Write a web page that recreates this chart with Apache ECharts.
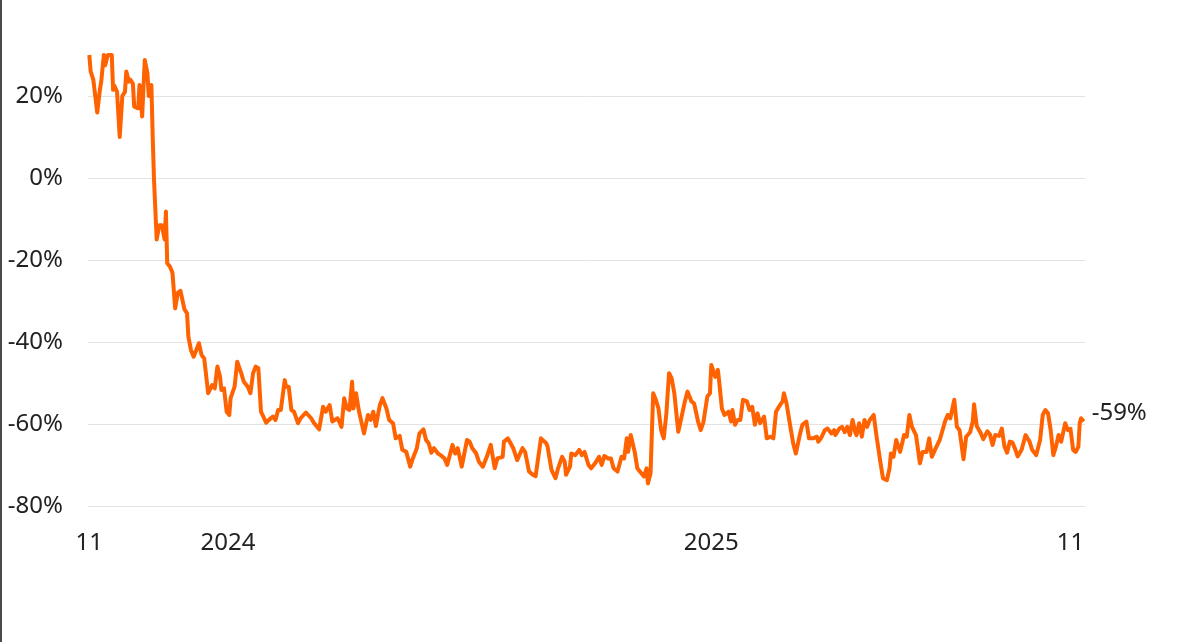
<!DOCTYPE html>
<html>
<head>
<meta charset="utf-8">
<script src="https://cdn.jsdelivr.net/npm/echarts@6/dist/echarts.min.js"></script>
<style>
  html, body { margin: 0; padding: 0; background: #fff; }
  #wrap { position: relative; width: 1200px; height: 642px; }
  #chart { width: 1200px; height: 642px; }
  #edge { position: absolute; left: 0; top: 0; width: 2px; height: 642px; background: #4a4a4a; }
</style>
</head>
<body>
<div id="wrap"><div id="chart"></div><div id="edge"></div></div>
<script>
// Days since the first observation (2024-01-01 = day 105, 2025-01-01 = day 471)
const days = [
  0,1,3,6,8,9,11,12,14,17,18,19,21,23,25,27,28,30,31,33,34,37,38,40,41,42,44,45,47,48,
  49,51,53,55,57,58,59,61,63,65,67,69,72,74,75,77,79,83,85,87,90,93,95,97,99,100,102,104,106,107,
  110,112,115,117,120,122,124,126,128,130,134,136,139,141,143,145,148,149,151,153,155,158,160,164,168,170,174,177,179,182,
  184,188,191,193,195,197,199,200,202,204,208,211,213,215,217,220,222,225,227,230,232,235,237,240,243,245,248,250,253,255,
  257,259,261,264,266,269,271,275,277,279,282,283,286,288,290,293,295,298,301,304,307,309,313,314,317,319,321,324,328,330,
  333,336,338,342,343,346,347,350,353,355,358,360,361,364,365,368,371,373,375,378,380,383,386,388,390,393,395,397,400,403,
  405,407,408,410,413,415,418,420,422,423,425,427,429,431,433,435,437,439,441,443,446,448,451,453,456,458,461,463,465,468,
  470,471,474,476,477,479,481,484,486,487,489,491,493,495,498,500,502,504,506,508,511,513,516,518,520,523,525,526,528,530,
  533,535,538,540,543,545,548,551,552,554,557,559,562,564,565,568,570,572,574,576,578,580,581,583,585,587,589,591,594,596,
  599,601,604,606,607,609,611,614,617,619,621,623,626,629,631,634,636,638,641,644,648,650,652,655,657,659,662,664,667,669,
  670,672,675,677,680,682,684,686,689,691,693,695,697,699,701,703,706,709,712,714,717,720,722,724,726,728,730,732,734,736,
  739,741,743,745,747,749,750,751,753
];
// Cumulative change, % (values at the top edge are where the line leaves the chart)
const changePct = [
  30,26,24,16,21.5,23.5,30,27.5,30,30,21.5,22.5,21,10,20,21,26,23.5,24,23,17.4,17,22.7,15,22,28.8,25.5,20,22.7,10,
  -0.5,-15,-11.5,-11.5,-15,-8.2,-20.8,-21.6,-23.2,-31.8,-28,-27.5,-32,-33,-38.7,-42,-43.6,-40.3,-43.2,-44,-52.5,-50.5,-51.3,-46,-48.5,-51.7,-51.3,-57,-57.8,-53.7,
  -50.9,-44.8,-47.6,-49.7,-50.9,-52.5,-47.6,-46,-46.4,-57,-59.7,-59,-58.2,-59,-56.6,-56.6,-49.3,-50.9,-50.9,-56.6,-57,-59.8,-58.6,-57.2,-58.6,-59.7,-61.3,-55.8,-57,-55.4,
  -59.4,-58.6,-60.7,-53.7,-56.2,-56.6,-49.7,-56.2,-52.5,-56.6,-62.3,-57.8,-59,-57,-60.5,-55.4,-53.7,-56.2,-59,-59.8,-63.5,-62.9,-66.3,-66.8,-70.4,-68.4,-65.9,-62.3,-61.3,-63.9,
  -64.7,-67,-65.9,-67.2,-67.6,-68.4,-70,-65.1,-67.2,-65.9,-70.4,-68.8,-63.9,-64.3,-65.9,-67.2,-69.2,-70.4,-68,-65.1,-70.8,-68.4,-68,-64.3,-63.5,-64.7,-65.9,-68.8,-65.9,-66.8,
  -71.6,-72.4,-72.7,-63.5,-63.5,-64.7,-65.5,-71.2,-73.2,-70.8,-68,-69.2,-72.4,-70.4,-67.2,-67.6,-66.3,-67.6,-66.8,-70,-70.8,-69.6,-68,-70,-67.8,-68.4,-68.4,-70.8,-71.6,-68,
  -68.4,-63.5,-66.8,-62.7,-66.8,-70.8,-72,-72.8,-70.8,-74.5,-72,-52.5,-54.1,-56.2,-61.5,-63.5,-57.4,-47.6,-48.9,-52.5,-61.9,-59,-54.5,-52.1,-54.5,-55,-59.4,-61.5,-59.6,-53.3,
  -52.5,-45.6,-48.5,-46.8,-49.7,-56.2,-57.8,-57,-59.4,-56.6,-60.2,-59,-59,-54.1,-54.5,-56.6,-55.8,-60.2,-57.4,-59.8,-58.2,-63.5,-63.1,-63.5,-57,-55.4,-54.5,-52.5,-55,-59,
  -64.7,-67.2,-62.7,-60.2,-59.4,-63.5,-63.5,-63.1,-64.3,-63.5,-61.5,-61.1,-62.3,-61.5,-62.7,-61.1,-60.7,-62,-60.7,-62.7,-59,-62,-62.7,-59.8,-63.1,-59,-60.7,-59,-57.8,-62.7,
  -69.2,-73.2,-73.7,-70.8,-67.2,-68,-63.9,-66.8,-62.7,-63.1,-57.8,-60.7,-62.7,-69.6,-66.8,-66.8,-63.5,-68,-65.9,-63.9,-59.4,-57.8,-58.6,-54.1,-60.7,-61.5,-68.6,-63.1,-62,-59.4,
  -55.2,-60.5,-62.2,-63.7,-61.8,-62.5,-65.1,-62.7,-62.9,-61.1,-65.5,-67,-64.3,-64.5,-66,-67.9,-66.3,-62.7,-64.3,-66.3,-67.6,-63.9,-57.8,-56.6,-57.4,-61.5,-67.6,-65.5,-62.7,-64.3,
  -59.8,-61.5,-61.2,-66.3,-66.8,-65.5,-59.8,-58.6,-59.4
];
const xTickDays = [0, 105, 471, 743];
const xTickLabels = ['11', '2024', '2025', '11'];
const yTicks = [-80, -60, -40, -20, 0, 20];

const seriesData = days.map((d, i) => [d, changePct[i]]);
const FONT = '"Noto Sans", "Open Sans", sans-serif';
const TXT = '#222';

const chart = echarts.init(document.getElementById('chart'), null, { renderer: 'canvas' });
chart.setOption({
  animation: false,
  backgroundColor: '#fff',
  textStyle: { fontFamily: FONT },
  grid: { left: 88, right: 115, top: 55, bottom: 136, containLabel: false },
  xAxis: {
    type: 'value',
    min: -1,
    max: 754,
    axisLine: { show: false },
    axisTick: { show: false, customValues: xTickDays },
    splitLine: { show: false },
    axisLabel: {
      customValues: xTickDays,
      formatter: function (v) {
        const i = xTickDays.indexOf(v);
        return i >= 0 ? xTickLabels[i] : '';
      },
      fontSize: 24, color: TXT, fontFamily: FONT, margin: 25
    }
  },
  yAxis: {
    type: 'value',
    min: -80,
    max: 30,
    axisLine: { show: false },
    axisTick: { show: false, customValues: yTicks },
    splitLine: { show: true, lineStyle: { color: '#e3e3e3', width: 1 } },
    axisLabel: {
      customValues: yTicks,
      formatter: v => v + '%',
      fontSize: 24, color: TXT, fontFamily: FONT, margin: 25
    }
  },
  series: [{
    type: 'line',
    data: seriesData,
    showSymbol: false,
    clip: true,
    lineStyle: { color: '#FF6200', width: 4, join: 'round' },
    itemStyle: { color: '#FF6200' },
    endLabel: {
      show: true,
      formatter: p => Math.round(p.value[1]) + '%',
      fontSize: 24, color: TXT, fontFamily: FONT,
      distance: 8,
      offset: [0, -8]
    }
  }]
});
</script>
</body>
</html>
